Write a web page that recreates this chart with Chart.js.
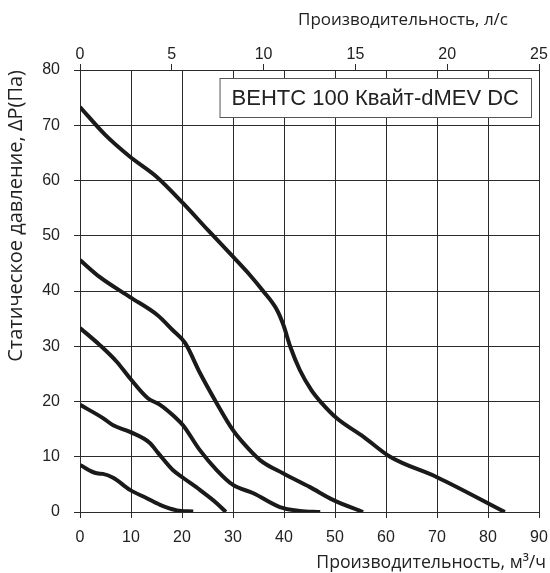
<!DOCTYPE html>
<html>
<head>
<meta charset="utf-8">
<script src="https://cdn.jsdelivr.net/npm/chart.js@4"></script>
<style>
  html, body { margin: 0; padding: 0; background: #fff; }
  #wrap { width: 550px; height: 573px; }
</style>
</head>
<body>
<div id="wrap"><canvas id="chart"></canvas></div>
<script>
// flow in m3/h, pressure in Pa, one pair of arrays per curve
const flow1 = [0, 4.9, 9.8, 15, 20.2, 25.1, 30, 33.3, 35.9, 38.6, 39.9, 41.2, 43.1, 45.4, 47.4, 50.3, 55.6, 60.8, 70, 83.3];
const pres1 = [73.3, 68.3, 64.3, 60.7, 55.9, 51, 46.2, 42.9, 40, 36.6, 33.8, 30, 25.7, 22, 19.7, 17, 13.6, 10, 6.3, 0];

const flow2 = [0, 3.9, 9.8, 15.1, 18.2, 20.6, 23.5, 26.8, 30, 32, 35.3, 39.8, 45.1, 49.6, 55.5];
const pres2 = [45.6, 42.5, 38.9, 35.7, 32.9, 30.6, 25.2, 19.7, 14.8, 12.5, 9.4, 7.0, 4.5, 2.2, 0];

const flow3 = [0, 3.9, 7.2, 9.8, 13.3, 15.7, 18.6, 20.2, 23.5, 26.8, 30, 34, 39.2, 43.1, 47.1];
const pres3 = [33.3, 30.2, 27.2, 24.2, 20.6, 19.4, 17.2, 15.7, 11.2, 7.6, 4.9, 3.4, 0.9, 0.2, 0];

const flow4 = [0, 4.5, 6.5, 9.8, 13.7, 15.3, 18.2, 20.2, 23.5, 26.8, 28.6];
const pres4 = [19.4, 17, 15.7, 14.5, 12.5, 10.7, 7.6, 6.2, 4.0, 1.6, 0];

const flow5 = [0, 3.3, 4.5, 6.5, 9.8, 13.1, 15.7, 19, 22.2];
const pres5 = [8.5, 7.0, 6.9, 6.2, 4.0, 2.5, 1.3, 0.3, 0.1];

const chartTitle = "ВЕНТС 100 Квайт-dMEV DC";
const xTitle = "Производительность, м³/ч";
const x2Title = "Производительность, л/с";
const yTitle = "Статическое давление, ΔP(Па)";

function toPoints(xs, ys) {
  return xs.map((x, i) => ({ x: x, y: ys[i] }));
}

const curves = [[flow1, pres1], [flow2, pres2], [flow3, pres3], [flow4, pres4], [flow5, pres5]];

const gridColor = "#2b2b2b";
const tickFont = { family: "'Liberation Sans', Arial, sans-serif", size: 16 };
const titleFont = { family: "'Open Sans', sans-serif", size: 20 };

// boxed model name plus the two flow axis titles (placed like the original)
const extraText = {
  id: "extraText",
  afterDraw(chart) {
    const ctx = chart.ctx;
    const area = chart.chartArea;
    ctx.save();
    ctx.font = "22px 'Liberation Sans', Arial, sans-serif";
    const w = ctx.measureText(chartTitle).width + 24;
    const h = 39;
    const x = area.right - 8 - w;
    const y = area.top + 8;
    ctx.fillStyle = "#fff";
    ctx.fillRect(x, y, w, h);
    ctx.strokeStyle = "#555";
    ctx.lineWidth = 1;
    ctx.strokeRect(x + 0.5, y + 0.5, w, h);
    ctx.fillStyle = "#222";
    ctx.textBaseline = "middle";
    ctx.fillText(chartTitle, x + 12, y + h / 2 + 1);

    ctx.textAlign = "right";
    ctx.font = "17px 'Open Sans', sans-serif";
    ctx.fillText(x2Title, area.right - 31, 20);
    ctx.font = "17.7px 'Open Sans', sans-serif";
    ctx.fillText(xTitle, area.right + 7, 563);
    ctx.restore();
  }
};

// fixed axis sizes so the plot box lands where the original has it
function fixSize(prop, size) {
  return s => {
    s[prop] = size;
    s.paddingLeft = 0;
    s.paddingRight = 0;
    s.paddingTop = 0;
    s.paddingBottom = 0;
  };
}

new Chart(document.getElementById("chart"), {
  type: "line",
  data: {
    datasets: curves.map(c => ({
      data: toPoints(c[0], c[1]),
      borderColor: "#1a1a1a",
      borderWidth: 4,
      pointRadius: 0,
      fill: false,
      cubicInterpolationMode: "monotone",
      borderCapStyle: "butt"
    }))
  },
  options: {
    responsive: true,
    maintainAspectRatio: false,
    animation: false,
    layout: { padding: { left: 0, right: 11, top: 0, bottom: 0 } },
    plugins: { legend: { display: false }, tooltip: { enabled: false } },
    scales: {
      x: {
        type: "linear",
        position: "bottom",
        min: 0, max: 90,
        ticks: { stepSize: 10, color: "#222", font: tickFont, padding: 10 },
        grid: { color: gridColor, lineWidth: 1, tickLength: 6 },
        border: { color: gridColor },
        afterFit: fixSize("height", 61)
      },
      x2: {
        type: "linear",
        position: "top",
        min: 0, max: 25,
        ticks: { stepSize: 5, color: "#222", font: tickFont, padding: 0 },
        grid: { drawOnChartArea: false, color: gridColor, tickLength: 6 },
        border: { color: gridColor },
        afterFit: fixSize("height", 70)
      },
      y: {
        min: 0, max: 80,
        ticks: { stepSize: 10, color: "#222", font: tickFont, padding: 14 },
        grid: { color: gridColor, lineWidth: 1, tickLength: 6 },
        border: { color: gridColor },
        title: { display: true, text: yTitle, align: "end", color: "#222", font: titleFont, padding: { top: 4, bottom: 0 } },
        afterFit: fixSize("width", 80)
      }
    }
  },
  plugins: [extraText]
});
</script>
</body>
</html>
